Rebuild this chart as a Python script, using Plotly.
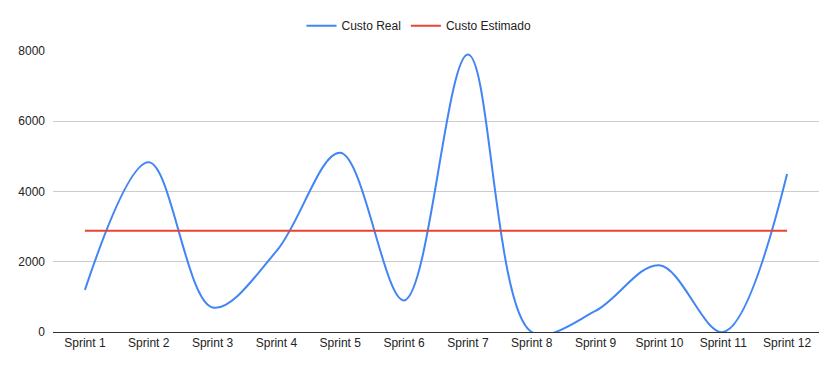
import plotly.graph_objects as go

categories = ["Sprint 1", "Sprint 2", "Sprint 3", "Sprint 4", "Sprint 5", "Sprint 6",
              "Sprint 7", "Sprint 8", "Sprint 9", "Sprint 10", "Sprint 11", "Sprint 12"]
custo_real = [1200, 4830, 700, 2300, 5100, 900, 7900, 0, 600, 1900, 0, 4500]
custo_estimado = [2880] * 12
y_ticks = [0, 2000, 4000, 6000, 8000]

fig = go.Figure()
fig.add_trace(go.Scatter(x=categories, y=custo_real, name="Custo Real", mode="lines",
                         line=dict(color="#4285F4", width=2, shape="spline", smoothing=1)))
fig.add_trace(go.Scatter(x=categories, y=custo_estimado, name="Custo Estimado", mode="lines",
                         line=dict(color="#EA4335", width=2)))

fig.update_layout(
    width=838, height=371,
    margin=dict(l=53, r=19, t=51, b=39, autoexpand=False),
    plot_bgcolor="white", paper_bgcolor="white",
    font=dict(family="Arial, Liberation Sans, sans-serif", size=12, color="#222222"),
    legend=dict(orientation="h", x=0.5, xanchor="center", xref="container",
                y=0.97, yanchor="top", yref="container",
                font=dict(size=12, color="#222222"), itemwidth=30),
    showlegend=True,
)
fig.update_xaxes(type="category", range=[-0.5, 11.5], showgrid=False, showline=True,
                 linecolor="#333333", linewidth=1, ticks="", automargin=False,
                 tickfont=dict(color="#222222"))
fig.update_yaxes(range=[0, 8000], tickvals=y_ticks, showgrid=True, gridcolor="#CCCCCC",
                 gridwidth=1, zeroline=False, showline=False, ticks="", automargin=False,
                 ticklabelstandoff=7, tickfont=dict(color="#222222"))

fig.write_html("out.html", config={"displayModeBar": False},
               post_script="document.body.style.margin='0';")
